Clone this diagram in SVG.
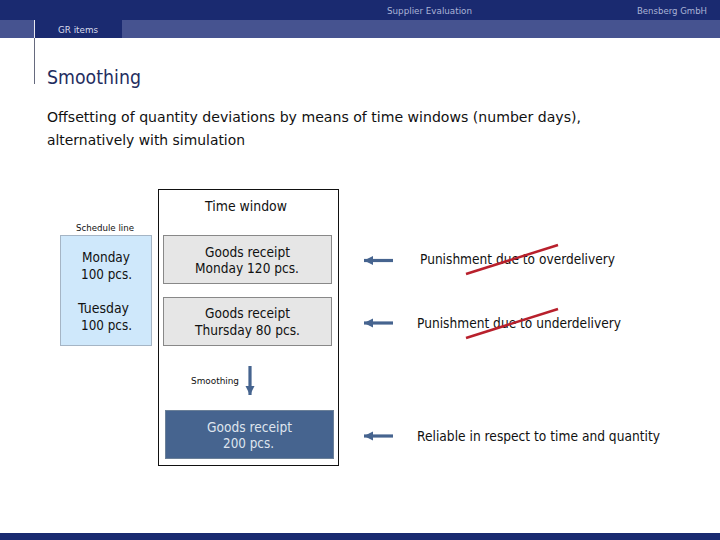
<svg xmlns="http://www.w3.org/2000/svg" width="720" height="540" viewBox="0 0 720 540">
<style>
text{font-family:"DejaVu Sans","Liberation Sans",sans-serif;fill:#111}
.m{font-size:13.5px}
.s{font-size:9.5px}
.h{fill:#aab3d6;font-size:9.5px}
.arr{stroke:#46648f;stroke-width:3.2;fill:none;marker-end:url(#ah)}
.red{stroke:#b8202c;stroke-width:2.5}
.g{fill:#e6e6e6;stroke:#888;stroke-width:1}
</style>
<defs><marker id="ah" markerUnits="userSpaceOnUse" markerWidth="10" markerHeight="10" refX="9" refY="5" orient="auto"><path d="M0 0.5L9 5L0 9.5Z" fill="#46648f"/></marker></defs>
<rect width="720" height="20" fill="#1a2a70"/>
<rect y="20" width="720" height="18" fill="#465390"/>
<rect x="34" y="20" width="88" height="18" fill="#1a2a70"/>
<rect y="533" width="720" height="7" fill="#1a2a70"/>
<path d="M34.500 20V38" stroke="#e8e8f0"/>
<path d="M34.500 38V84" stroke="#666a7e"/>
<text class="h" x="387" y="14" textLength="85" lengthAdjust="spacingAndGlyphs">Supplier Evaluation</text>
<text class="h" x="637" y="14" textLength="70" lengthAdjust="spacingAndGlyphs">Bensberg GmbH</text>
<text class="h" x="58" y="33" textLength="40" lengthAdjust="spacingAndGlyphs" style="fill:#d8dcec">GR items</text>
<text x="47" y="84" font-size="19" style="fill:#1f2d60" textLength="94" lengthAdjust="spacingAndGlyphs">Smoothing</text>
<text x="47" y="122" font-size="14.500" textLength="534" lengthAdjust="spacingAndGlyphs">Offsetting of quantity deviations by means of time windows (number days),</text>
<text x="47" y="145" font-size="14.500" textLength="198" lengthAdjust="spacingAndGlyphs">alternatively with simulation</text>

<g id="window"><rect x="158.500" y="189.500" width="180" height="276" fill="#fff" stroke="#111"/>
<text class="m" x="205" y="211" textLength="82" lengthAdjust="spacingAndGlyphs">Time window</text></g>
<g id="schedule"><text class="s" x="76" y="231" textLength="58" lengthAdjust="spacingAndGlyphs">Schedule line</text>
<rect x="60.500" y="235.500" width="91" height="110" fill="#cfe8fb" stroke="#a5b5c5"/>
<text class="m" x="82" y="262" textLength="48" lengthAdjust="spacingAndGlyphs">Monday</text>
<text class="m" x="81" y="279" textLength="51" lengthAdjust="spacingAndGlyphs">100 pcs.</text>
<text class="m" x="78" y="313" textLength="51" lengthAdjust="spacingAndGlyphs">Tuesday</text>
<text class="m" x="81" y="330" textLength="51" lengthAdjust="spacingAndGlyphs">100 pcs.</text></g>
<g id="receipt1"><rect class="g" x="163.500" y="235.500" width="168" height="48"/>
<text class="m" x="205" y="257" textLength="85" lengthAdjust="spacingAndGlyphs">Goods receipt</text>
<text class="m" x="195" y="273" textLength="104" lengthAdjust="spacingAndGlyphs">Monday 120 pcs.</text></g>
<g id="receipt2"><rect class="g" x="163.500" y="297.500" width="168" height="48"/>
<text class="m" x="205" y="318" textLength="85" lengthAdjust="spacingAndGlyphs">Goods receipt</text>
<text class="m" x="195" y="335" textLength="105" lengthAdjust="spacingAndGlyphs">Thursday 80 pcs.</text></g>
<g id="receipt3"><rect x="165.500" y="410.500" width="168" height="48" fill="#46648f" stroke="#6b8098"/>
<text class="m" x="207" y="432" textLength="85" lengthAdjust="spacingAndGlyphs" style="fill:#dfe4ee">Goods receipt</text>
<text class="m" x="223" y="448" textLength="51" lengthAdjust="spacingAndGlyphs" style="fill:#dfe4ee">200 pcs.</text></g>
<g id="smoothing-label"><text class="s" x="191" y="384" textLength="48" lengthAdjust="spacingAndGlyphs">Smoothing</text></g>
<g id="outcome1"><text class="m" x="420" y="264" textLength="195" lengthAdjust="spacingAndGlyphs">Punishment due to overdelivery</text></g>
<g id="outcome2"><text class="m" x="417" y="328" textLength="204" lengthAdjust="spacingAndGlyphs">Punishment due to underdelivery</text></g>
<g id="outcome3"><text class="m" x="417" y="441" textLength="243" lengthAdjust="spacingAndGlyphs">Reliable in respect to time and quantity</text></g>
<g id="connectors">
<path class="arr" d="M393 260.500H364"/>
<path class="arr" d="M393 323H364"/>
<path class="arr" d="M393 436H364"/>
<path class="arr" d="M250 366V395"/>
<path class="red" d="M466 274L558 245"/>
<path class="red" d="M466 338L558 309"/>
</g>
</svg>
